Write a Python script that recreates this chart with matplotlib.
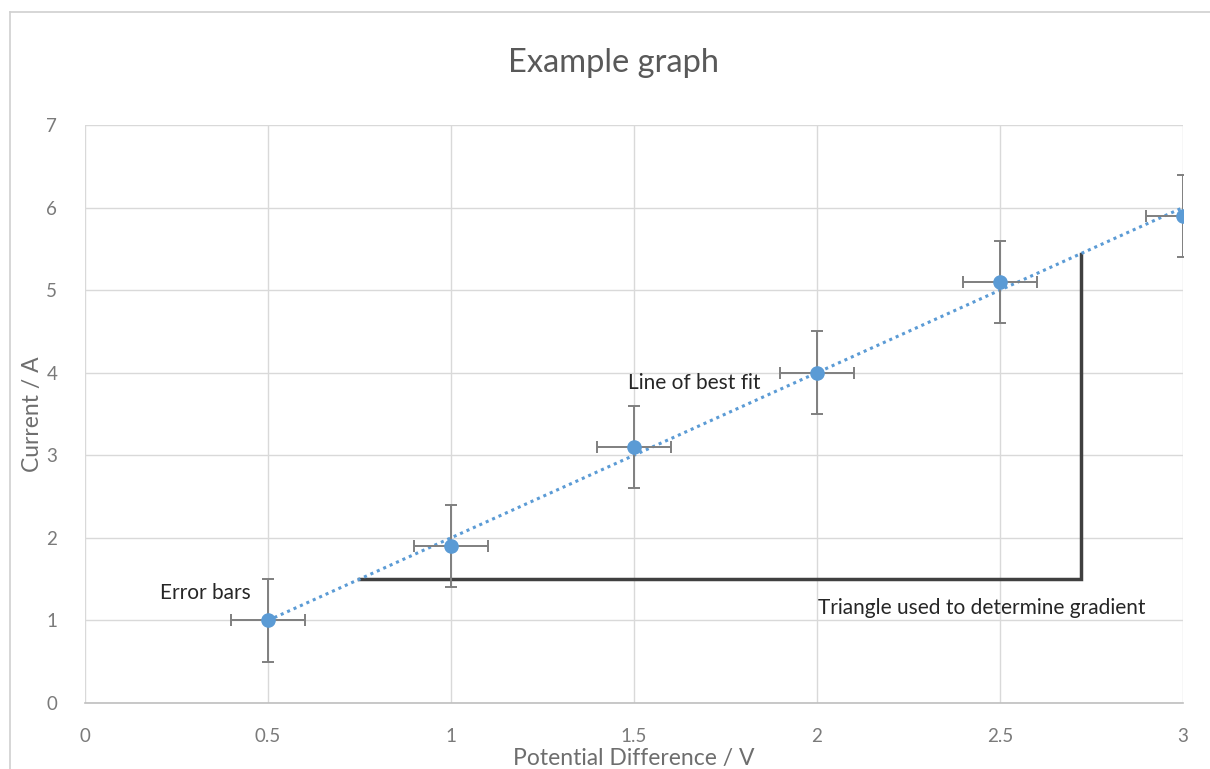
import numpy as np
import matplotlib.pyplot as plt
from matplotlib.lines import Line2D

plt.rcParams['font.family'] = ['Lato', 'DejaVu Sans']

# data
pd_volts = [0.5, 1.0, 1.5, 2.0, 2.5, 3.0]
current = [1.0, 1.9, 3.1, 4.0, 5.1, 5.9]
x_err = [0.1, 0.1, 0.1, 0.1, 0.1, 0.1]
y_err = [0.5, 0.5, 0.5, 0.5, 0.5, 0.5]

# gradient triangle corners (x start, x end, y base)
tri_x = [0.75, 2.72]
tri_y_base = 1.5

blue = '#5B9BD5'
grey_txt = '#595959'

fig = plt.figure(figsize=(12.1, 7.69), dpi=100)
ax = fig.add_axes([0.0702, 0.0858, 0.9075, 0.7517])

# outer chart border (picture is cropped on right and bottom)
fig.add_artist(Line2D([0.0083, 0.0083], [0, 0.9844], color='#d0d0d0', lw=1.2, transform=fig.transFigure))
fig.add_artist(Line2D([0.0083, 1], [0.9844, 0.9844], color='#d0d0d0', lw=1.2, transform=fig.transFigure))

# line of best fit
m, c = np.polyfit(pd_volts, current, 1)
xs = np.array([min(pd_volts), max(pd_volts)])
ax.plot(xs, m*xs + c, color=blue, lw=2.2, linestyle=(0, (1, 1.3)), zorder=3)

ax.errorbar(pd_volts, current, xerr=x_err, yerr=y_err, fmt='o', color=blue,
            markersize=9.5, ecolor='#7f7f7f', elinewidth=1.4, capsize=4, capthick=1.4, zorder=4)

# triangle used for the gradient
x_top = tri_x[1]
ax.plot([tri_x[0], x_top, x_top], [tri_y_base, tri_y_base, m*x_top + c],
        color='#404040', lw=2.5, zorder=2, solid_joinstyle='miter')

ax.text(0.205, 1.33, 'Error bars', fontsize=15, color='#262626', va='center', ha='left')
ax.text(1.484, 3.87, 'Line of best fit', fontsize=15, color='#262626', va='center', ha='left')
ax.text(2.003, 1.15, 'Triangle used to determine gradient', fontsize=15, color='#262626', va='center', ha='left')

ax.set_xlim(0, 3)
ax.set_ylim(0, 7)
ax.set_xticks([0, 0.5, 1, 1.5, 2, 2.5, 3])
ax.set_xticklabels(['0', '0.5', '1', '1.5', '2', '2.5', '3'])
ax.set_yticks(range(8))
ax.grid(color='#d9d9d9', lw=1)
ax.set_axisbelow(True)
for s in ['top', 'right', 'left']:
    ax.spines[s].set_visible(False)
ax.spines['bottom'].set_color('#bfbfbf')
ax.spines['bottom'].set_linewidth(1.2)
ax.tick_params(length=0, labelsize=13.5, colors='#7a7a7a')
ax.tick_params(axis='x', pad=18)
ax.tick_params(axis='y', pad=20)

fig.text(0.507, 0.918, 'Example graph', fontsize=23.5, color=grey_txt, ha='center', va='center')
ax.set_xlabel('Potential Difference / V', fontsize=16.5, color='#6e6e6e', labelpad=2)
ax.set_ylabel('Current / A', fontsize=16.5, color='#6e6e6e', labelpad=2)

fig.savefig('out.png', dpi=100)
